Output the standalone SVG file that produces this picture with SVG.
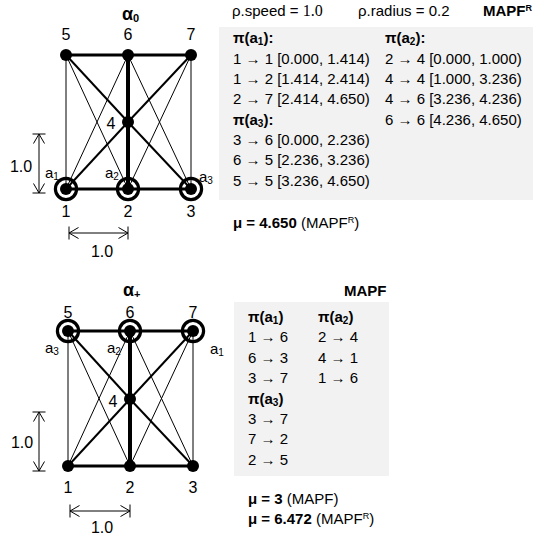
<svg xmlns="http://www.w3.org/2000/svg" width="544" height="538" viewBox="0 0 544 538">
<defs>
<style>
text{font-family:"Liberation Sans",Arial,sans-serif;fill:#000}
.lbl{font-size:16px;text-anchor:middle}
.ag{font-size:15px}
.t{font-size:15px}
.b{font-weight:bold}
.ttl{font-size:18px;font-weight:bold}
.dot{fill:#000}
.ring{fill:none;stroke:#000;stroke-width:3.2}
.e1{stroke:#000;stroke-width:1}
.e2{stroke:#000;stroke-width:2}
.e3{stroke:#000;stroke-width:3}
.e4{stroke:#000;stroke-width:4}
.dim{stroke:#000;stroke-width:1;fill:none}
.panel{fill:#f2f2f2}
</style>
<marker id="ah" viewBox="0 0 10 12" refX="10" refY="6" markerWidth="10" markerHeight="12" markerUnits="userSpaceOnUse" orient="auto-start-reverse">
<path d="M0.5,0.5 L10,6 L0.5,11.5" fill="none" stroke="#000" stroke-width="1"/>
</marker>
</defs>

<rect class="panel" x="219" y="27" width="314" height="173"/>
<rect class="panel" x="234" y="302" width="155" height="174"/>

<!-- titles -->
<text class="ttl" x="122" y="20">α<tspan font-size="11" dy="2">0</tspan></text>
<text class="ttl" x="123" y="296">α<tspan font-size="11" dy="2">+</tspan></text>

<!-- connectors -->
<g id="connectors">
<g id="edges-top">
<line class="e1" x1="66" y1="55" x2="66" y2="189"/>
<line class="e1" x1="191" y1="55" x2="191" y2="189"/>
<line class="e1" x1="66" y1="55" x2="128" y2="189"/>
<line class="e1" x1="128" y1="55" x2="66" y2="189"/>
<line class="e1" x1="128" y1="55" x2="191" y2="189"/>
<line class="e1" x1="191" y1="55" x2="128" y2="189"/>
<line class="e2" x1="66" y1="55" x2="128" y2="122"/>
<line class="e2" x1="128" y1="122" x2="191" y2="189"/>
<line class="e2" x1="191" y1="55" x2="128" y2="122"/>
<line class="e2" x1="128" y1="122" x2="66" y2="189"/>
<line class="e3" x1="66" y1="55" x2="128" y2="55"/>
<line class="e3" x1="128" y1="55" x2="191" y2="55"/>
<line class="e3" x1="66" y1="189" x2="128" y2="189"/>
<line class="e3" x1="128" y1="189" x2="191" y2="189"/>
<line class="e4" x1="128" y1="55" x2="128" y2="122"/>
<line class="e4" x1="128" y1="122" x2="128" y2="189"/>
</g>
<g id="edges-bottom">
<line class="e1" x1="68" y1="331" x2="68" y2="466"/>
<line class="e1" x1="193" y1="331" x2="193" y2="466"/>
<line class="e1" x1="68" y1="331" x2="130" y2="466"/>
<line class="e1" x1="130" y1="331" x2="68" y2="466"/>
<line class="e1" x1="130" y1="331" x2="193" y2="466"/>
<line class="e1" x1="193" y1="331" x2="130" y2="466"/>
<line class="e2" x1="68" y1="331" x2="130" y2="399"/>
<line class="e2" x1="130" y1="399" x2="193" y2="466"/>
<line class="e2" x1="193" y1="331" x2="130" y2="399"/>
<line class="e2" x1="130" y1="399" x2="68" y2="466"/>
<line class="e3" x1="68" y1="331" x2="130" y2="331"/>
<line class="e3" x1="130" y1="331" x2="193" y2="331"/>
<line class="e3" x1="68" y1="466" x2="130" y2="466"/>
<line class="e3" x1="130" y1="466" x2="193" y2="466"/>
<line class="e4" x1="130" y1="331" x2="130" y2="399"/>
<line class="e4" x1="130" y1="399" x2="130" y2="466"/>
</g>
</g>

<!-- top graph nodes -->
<g id="t-n5"><circle class="dot" cx="66" cy="55" r="6"/><text class="lbl" x="66" y="40">5</text></g>
<g id="t-n6"><circle class="dot" cx="128" cy="55" r="6"/><text class="lbl" x="128" y="40">6</text></g>
<g id="t-n7"><circle class="dot" cx="191" cy="55" r="6"/><text class="lbl" x="191" y="40">7</text></g>
<g id="t-n4"><circle class="dot" cx="128" cy="122" r="6"/><text class="lbl" x="111" y="129">4</text></g>
<g id="t-n1"><circle class="ring" cx="66" cy="189" r="10.6"/><circle class="dot" cx="66" cy="189" r="6"/><text class="lbl" x="66" y="217">1</text><text class="ag" x="45" y="178">a<tspan font-size="10" dy="2">1</tspan></text></g>
<g id="t-n2"><circle class="ring" cx="128" cy="189" r="10.6"/><circle class="dot" cx="128" cy="189" r="6"/><text class="lbl" x="128" y="217">2</text><text class="ag" x="105" y="178">a<tspan font-size="10" dy="2">2</tspan></text></g>
<g id="t-n3"><circle class="ring" cx="191" cy="189" r="10.6"/><circle class="dot" cx="191" cy="189" r="6"/><text class="lbl" x="191" y="217">3</text><text class="ag" x="199" y="182">a<tspan font-size="10" dy="2">3</tspan></text></g>

<!-- bottom graph nodes -->
<g id="b-n5"><circle class="ring" cx="68" cy="331" r="10.6"/><circle class="dot" cx="68" cy="331" r="6"/><text class="lbl" x="68" y="318">5</text><text class="ag" x="45" y="353">a<tspan font-size="10" dy="2">3</tspan></text></g>
<g id="b-n6"><circle class="ring" cx="130" cy="331" r="10.6"/><circle class="dot" cx="130" cy="331" r="6"/><text class="lbl" x="130" y="318">6</text><text class="ag" x="107" y="353">a<tspan font-size="10" dy="2">2</tspan></text></g>
<g id="b-n7"><circle class="ring" cx="193" cy="331" r="10.6"/><circle class="dot" cx="193" cy="331" r="6"/><text class="lbl" x="193" y="318">7</text><text class="ag" x="210" y="354">a<tspan font-size="10" dy="2">1</tspan></text></g>
<g id="b-n4"><circle class="dot" cx="130" cy="399" r="6"/><text class="lbl" x="113" y="407">4</text></g>
<g id="b-n1"><circle class="dot" cx="68" cy="466" r="6"/><text class="lbl" x="68" y="493">1</text></g>
<g id="b-n2"><circle class="dot" cx="130" cy="466" r="6"/><text class="lbl" x="130" y="493">2</text></g>
<g id="b-n3"><circle class="dot" cx="193" cy="466" r="6"/><text class="lbl" x="193" y="493">3</text></g>

<!-- dimensions -->
<g id="dims">
<path class="dim" d="M39,134 V193" marker-start="url(#ah)" marker-end="url(#ah)"/>
<path class="dim" d="M32.5,134 H45.5 M32.5,193 H45.5"/>
<text class="lbl" x="21" y="172">1.0</text>
<path class="dim" d="M69,233 H128" marker-start="url(#ah)" marker-end="url(#ah)"/>
<path class="dim" d="M69,226.5 V239.5 M128,226.5 V239.5"/>
<text class="lbl" x="102" y="257">1.0</text>
<path class="dim" d="M39,412 V471" marker-start="url(#ah)" marker-end="url(#ah)"/>
<path class="dim" d="M32.5,412 H45.5 M32.5,471 H45.5"/>
<text class="lbl" x="22" y="448">1.0</text>
<path class="dim" d="M70,511 H130" marker-start="url(#ah)" marker-end="url(#ah)"/>
<path class="dim" d="M70,504.5 V517.5 M130,504.5 V517.5"/>
<text class="lbl" x="102" y="533">1.0</text>
</g>

<!-- top panel text -->
<g id="top-text" class="t">
<text class="t" x="232" y="16">ρ.speed = <tspan font-family="Liberation Serif, serif" font-size="16">1.0</tspan></text>
<text class="t" x="358" y="16">ρ.radius = 0.2</text>
<text class="t b" x="483" y="16">MAPF<tspan font-size="9" dy="-5">R</tspan></text>
<text class="t b" x="233" y="43">π(a<tspan font-size="10" dy="2">1</tspan><tspan dy="-2">):</tspan></text>
<text class="t" x="233" y="63.5">1 → 1 [0.000, 1.414)</text>
<text class="t" x="233" y="84">1 → 2 [1.414, 2.414)</text>
<text class="t" x="233" y="104">2 → 7 [2.414, 4.650)</text>
<text class="t b" x="233" y="124.5">π(a<tspan font-size="10" dy="2">3</tspan><tspan dy="-2">):</tspan></text>
<text class="t" x="233" y="145">3 → 6 [0.000, 2.236)</text>
<text class="t" x="233" y="165">6 → 5 [2.236, 3.236)</text>
<text class="t" x="233" y="185.5">5 → 5 [3.236, 4.650)</text>
<text class="t b" x="385" y="43">π(a<tspan font-size="10" dy="2">2</tspan><tspan dy="-2">):</tspan></text>
<text class="t" x="385" y="63.5">2 → 4 [0.000, 1.000)</text>
<text class="t" x="385" y="84">4 → 4 [1.000, 3.236)</text>
<text class="t" x="385" y="104">4 → 6 [3.236, 4.236)</text>
<text class="t" x="385" y="124.5">6 → 6 [4.236, 4.650)</text>
<text class="t" x="233" y="228"><tspan font-weight="bold">μ = 4.650</tspan> (MAPF<tspan font-size="9" dy="-5">R</tspan><tspan dy="5">)</tspan></text>
</g>

<!-- bottom panel text -->
<g id="bottom-text">
<text class="t b" x="344" y="296">MAPF</text>
<text class="t b" x="248" y="322">π(a<tspan font-size="10" dy="2">1</tspan><tspan dy="-2">)</tspan></text>
<text class="t" x="248" y="342">1 → 6</text>
<text class="t" x="248" y="362.5">6 → 3</text>
<text class="t" x="248" y="383">3 → 7</text>
<text class="t b" x="248" y="404">π(a<tspan font-size="10" dy="2">3</tspan><tspan dy="-2">)</tspan></text>
<text class="t" x="248" y="423.5">3 → 7</text>
<text class="t" x="248" y="444">7 → 2</text>
<text class="t" x="248" y="464.5">2 → 5</text>
<text class="t b" x="318" y="322">π(a<tspan font-size="10" dy="2">2</tspan><tspan dy="-2">)</tspan></text>
<text class="t" x="318" y="342">2 → 4</text>
<text class="t" x="318" y="362.5">4 → 1</text>
<text class="t" x="318" y="383">1 → 6</text>
<text class="t" x="248" y="504"><tspan font-weight="bold">μ = 3</tspan> (MAPF)</text>
<text class="t" x="248" y="524"><tspan font-weight="bold">μ = 6.472</tspan> (MAPF<tspan font-size="9" dy="-5">R</tspan><tspan dy="5">)</tspan></text>
</g>
</svg>
